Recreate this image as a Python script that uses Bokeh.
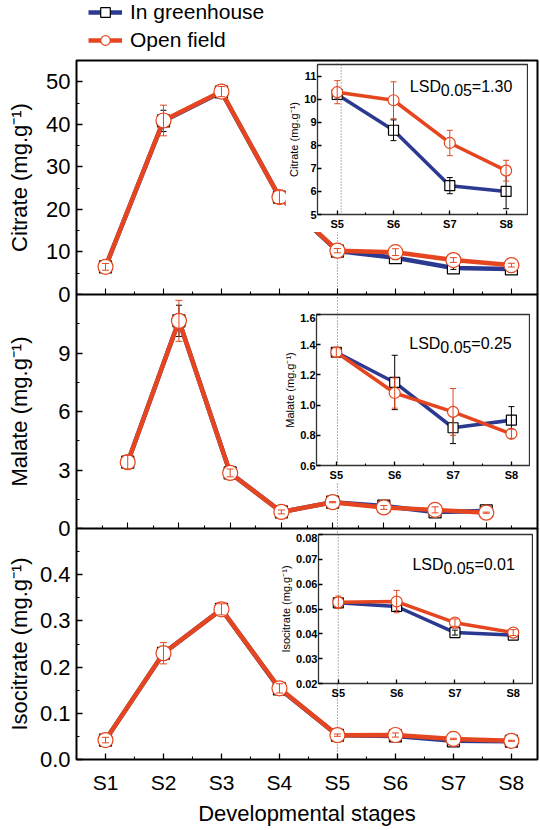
from bokeh.plotting import figure
from bokeh.models import (GridBox, Range1d, FixedTicker, PrintfTickFormatter, Span,
                          Label, Legend, LegendItem, ColumnDataSource, LinearAxis)
from bokeh.embed import file_html
from bokeh.resources import INLINE

# ---------------- data ----------------
stages = ["S1", "S2", "S3", "S4", "S5", "S6", "S7", "S8"]
inset_start = 4  # insets show S5..S8

citrate_gh = [6.5, 40.8, 47.6, 22.9, 10.2, 8.65, 6.25, 6.0]
citrate_gh_err = [0.6, 2.5, 1.0, 1.2, 0.2, 0.45, 0.35, 0.75]
citrate_of = [6.5, 40.9, 47.7, 22.9, 10.3, 9.95, 8.1, 6.9]
citrate_of_err = [0.8, 3.6, 1.2, 1.5, 0.5, 0.8, 0.55, 0.45]

malate_gh = [3.4, 10.65, 2.85, 0.85, 1.35, 1.15, 0.85, 0.90]
malate_gh_err = [0.3, 0.8, 0.2, 0.1, 0.02, 0.18, 0.105, 0.09]
malate_of = [3.4, 10.65, 2.85, 0.85, 1.35, 1.08, 0.955, 0.81]
malate_of_err = [0.35, 1.05, 0.2, 0.1, 0.03, 0.1, 0.155, 0.03]

iso_gh = [0.042, 0.23, 0.325, 0.153, 0.0525, 0.051, 0.0405, 0.0395]
iso_gh_err = [0.004, 0.015, 0.008, 0.008, 0.001, 0.0018, 0.001, 0.0008]
iso_of = [0.042, 0.23, 0.325, 0.154, 0.0527, 0.053, 0.0445, 0.0405]
iso_of_err = [0.006, 0.023, 0.012, 0.01, 0.0025, 0.0045, 0.0015, 0.0012]

lsd_values = ["1.30", "0.25", "0.01"]
series_names = ["In greenhouse", "Open field"]

citrate_ticks = [0, 10, 20, 30, 40, 50]
malate_ticks = [0, 3, 6, 9]
iso_ticks = [0.0, 0.1, 0.2, 0.3, 0.4]
citrate_inset_ticks = [5, 6, 7, 8, 9, 10, 11]
malate_inset_ticks = [0.6, 0.8, 1.0, 1.2, 1.4, 1.6]
iso_inset_ticks = [0.02, 0.03, 0.04, 0.05, 0.06, 0.07, 0.08]

# ---------------- style ----------------
FONT = "Liberation Sans"
BLUE = "#2B3990"
RED = "#E5461F"
x_pos = list(range(1, len(stages) + 1))
x_half = [x - 0.5 for x in x_pos] + [x_pos[-1] + 0.5]

GH_STYLE = dict(color=BLUE, marker="square", mline="black", ecolor="black")
OF_STYLE = dict(color=RED, marker="circle", mline=RED, ecolor=RED)
FRAME_H = 234


def draw_series(p, xs, ys, errs, color, marker, mline, ecolor, msize, lw, cap, bars=True):
    src = ColumnDataSource(dict(
        x=xs, y=ys,
        lo=[y - e for y, e in zip(ys, errs)],
        hi=[y + e for y, e in zip(ys, errs)]))
    ln = p.line("x", "y", source=src, line_color=color, line_width=lw, line_join="round")
    mk = p.scatter("x", "y", source=src, marker=marker, size=msize,
                   fill_color="white", line_color=mline, line_width=1.2)
    if bars:
        p.segment("x", "lo", "x", "hi", source=src, line_color=ecolor, line_width=1)
        p.scatter("x", "hi", source=src, marker="dash", size=cap, line_color=ecolor,
                  line_width=1)
        p.scatter("x", "lo", source=src, marker="dash", size=cap, line_color=ecolor,
                  line_width=1)
    return ln, mk


def style_axis(ax, tin, tmin):
    ax.axis_line_color = None
    ax.major_tick_in = tin
    ax.major_tick_out = 0
    ax.minor_tick_in = tmin
    ax.minor_tick_out = 0
    ax.major_tick_line_width = 1.3
    ax.minor_tick_line_width = 1.1
    ax.major_tick_line_color = "black"
    ax.minor_tick_line_color = "black"
    ax.major_label_text_font = FONT
    ax.major_label_text_color = "black"
    ax.axis_label_text_font = FONT
    ax.axis_label_text_font_style = "normal"
    ax.axis_label_text_color = "black"


def main_panel(height, xr, yr, yticks, yminor, yfmt, ylabel, lstand, top, bottom,
               border_alpha, show_x):
    p = figure(width=540, height=height, x_range=Range1d(*xr), y_range=Range1d(*yr),
               output_backend="svg", toolbar_location=None,
               min_border_left=76, min_border_right=3, min_border_top=top,
               min_border_bottom=bottom, background_fill_color="white",
               border_fill_color="white", border_fill_alpha=border_alpha,
               outline_line_color="black", outline_line_width=2)
    p.grid.visible = False
    xa, ya = p.xaxis[0], p.yaxis[0]
    style_axis(xa, 6, 3)
    style_axis(ya, 6, 3)
    ya.ticker = FixedTicker(ticks=yticks, minor_ticks=yminor)
    ya.formatter = PrintfTickFormatter(format=yfmt)
    ya.major_label_text_font_size = "22px"
    ya.major_label_standoff = 6
    ya.axis_label = ylabel
    ya.axis_label_text_font_size = "22px"
    ya.axis_label_standoff = lstand
    if show_x:
        xa.ticker = FixedTicker(ticks=x_pos, minor_ticks=x_half)
        xa.major_label_overrides = {x: s for x, s in zip(x_pos, stages)}
        xa.major_label_text_font_size = "21px"
        xa.major_label_standoff = 11
        xa.axis_label = "Developmental stages"
        xa.axis_label_text_font_size = "22px"
        xa.axis_label_standoff = 4
    else:
        # label-free tick rows: stage ticks and half-stage ticks
        xa.ticker = FixedTicker(ticks=[], minor_ticks=x_pos)
        xa.minor_tick_in = 6
        xb = LinearAxis(ticker=FixedTicker(ticks=[], minor_ticks=x_half))
        style_axis(xb, 6, 3)
        p.add_layout(xb, "below")
    return p


def inset_panel(width, height, border_left, xr, yr, yticks, yfmt, ylabel, border_alpha):
    p = figure(width=width, height=height, x_range=Range1d(*xr), y_range=Range1d(*yr),
               output_backend="svg", toolbar_location=None,
               min_border_left=border_left, min_border_right=1, min_border_top=1,
               min_border_bottom=16, background_fill_color="white",
               border_fill_color="white", border_fill_alpha=border_alpha,
               outline_line_color="#333333", outline_line_width=1.3)
    p.grid.visible = False
    xa, ya = p.xaxis[0], p.yaxis[0]
    style_axis(xa, 4, 2)
    style_axis(ya, 4, 2)
    xs = x_pos[inset_start:]
    xa.ticker = FixedTicker(ticks=xs, minor_ticks=[x + 0.5 for x in xs[:-1]])
    xa.major_label_overrides = {x: s for x, s in zip(xs, stages[inset_start:])}
    xa.major_label_text_font_size = "11px"
    xa.major_label_text_font_style = "bold"
    xa.major_label_standoff = 3
    ya.ticker = FixedTicker(ticks=yticks)
    ya.formatter = PrintfTickFormatter(format=yfmt)
    ya.major_label_text_font_size = "11px"
    ya.major_label_text_font_style = "bold"
    ya.major_label_standoff = 1
    ya.axis_label = ylabel
    ya.axis_label_text_font_size = "11px"
    ya.axis_label_standoff = 1
    return p


def add_lsd(p, x, y, value, yr, frame_h):
    dy = (yr[1] - yr[0]) * 4.0 / frame_h
    kw = dict(text_font=FONT, text_font_size="16px", text_color="black",
              text_baseline="alphabetic", text_align="left")
    p.add_layout(Label(x=x, y=y, text="LSD", **kw))
    p.add_layout(Label(x=x, y=y - dy, x_offset=31, text="0.05", **kw))
    p.add_layout(Label(x=x, y=y, x_offset=62, text="=" + value, **kw))


def add_span(p, loc):
    p.add_layout(Span(location=loc, dimension="height", line_color="#666666",
                      line_dash="1 2", line_width=1, level="underlay"))


def fill_main(p, gh, gh_err, of, of_err):
    draw_series(p, x_pos, gh, gh_err, msize=12, lw=4.5, cap=6, **GH_STYLE)
    draw_series(p, x_pos, of, of_err, msize=15, lw=4.5, cap=7, **OF_STYLE)


def fill_inset(p, gh, gh_err, of, of_err):
    xs = x_pos[inset_start:]
    k = inset_start
    draw_series(p, xs, gh[k:], gh_err[k:], msize=10, lw=3.5, cap=6, **GH_STYLE)
    draw_series(p, xs, of[k:], of_err[k:], msize=11, lw=3.5, cap=6, **OF_STYLE)


s5 = x_pos[inset_start]
unit = "(mg.g\u207b\u00b9)"

# ---------------- legend strip (series drawn outside its view, legend only) ----------------
lf = figure(width=400, height=58, x_range=Range1d(-20, -19), y_range=Range1d(-20, -19),
            x_axis_type=None, y_axis_type=None, output_backend="svg",
            toolbar_location=None, min_border=0, min_border_left=0, min_border_right=0,
            min_border_top=0, min_border_bottom=0, outline_line_color=None,
            background_fill_color="white", border_fill_color="white")
lf.grid.visible = False
items = []
for name, st, ys in zip(series_names, (GH_STYLE, OF_STYLE), (citrate_gh, citrate_of)):
    ln, mk = draw_series(lf, x_pos, ys, [0] * len(ys), msize=12, lw=4.5, cap=6,
                         bars=False, **st)
    items.append(LegendItem(label=name, renderers=[ln, mk]))
legend = Legend(items=items, location=(12, 6), orientation="vertical",
                label_text_font=FONT, label_text_font_size="21px", label_text_color="black",
                glyph_width=34, glyph_height=24, label_height=24, label_standoff=8,
                spacing=4, padding=0, margin=0, background_fill_alpha=0,
                border_line_color=None)
lf.add_layout(legend, "center")

# ---------------- main panels ----------------
f1 = main_panel(2 + FRAME_H + 12, (0.5, 8.45), (0, 55), citrate_ticks,
                [5, 15, 25, 35, 45, 55], "%d", "Citrate " + unit, 11, 2, 12, 0.0, False)
add_span(f1, s5)
fill_main(f1, citrate_gh, citrate_gh_err, citrate_of, citrate_of_err)

f2 = main_panel(FRAME_H + 12, (0, 9), (0, 12), malate_ticks, [1.5, 4.5, 7.5, 10.5], "%d",
                "Malate " + unit, 23, 0, 12, 0.0, False)
add_span(f2, s5 + 0.095)
fill_main(f2, malate_gh, malate_gh_err, malate_of, malate_of_err)

f3 = main_panel(FRAME_H + 66, (0.5, 8.45), (0, 0.5), iso_ticks,
                [0.05, 0.15, 0.25, 0.35, 0.45], "%.1f", "Isocitrate " + unit, 5, 0, 66,
                0.0, True)
add_span(f3, s5)
fill_main(f3, iso_gh, iso_gh_err, iso_of, iso_of_err)

# ---------------- insets ----------------
yr1 = (5, 11.5)
i1 = inset_panel(243, 169, 28, (4.65, 8.38), yr1, citrate_inset_ticks, "%d",
                 "Citrate " + unit, 1.0)
add_span(i1, s5 + 0.07)
fill_inset(i1, citrate_gh, citrate_gh_err, citrate_of, citrate_of_err)
add_lsd(i1, 6.29, 10.56, lsd_values[0], yr1, 152)

yr2 = (0.6, 1.6)
i2 = inset_panel(250, 170, 36, (4.66, 8.31), yr2, malate_inset_ticks, "%.1f",
                 "Malate " + unit, 1.0)
add_span(i2, s5 + 0.02)
fill_inset(i2, malate_gh, malate_gh_err, malate_of, malate_of_err)
add_lsd(i2, 6.25, 1.41, lsd_values[1], yr2, 153)

yr3 = (0.02, 0.08)
i3 = inset_panel(257, 168, 42, (4.66, 8.33), yr3, iso_inset_ticks, "%.2f",
                 "Isocitrate " + unit, 0.0)
add_span(i3, s5)
fill_inset(i3, iso_gh, iso_gh_err, iso_of, iso_of_err)
add_lsd(i3, 6.27, 0.0681, lsd_values[2], yr3, 151)

# ---------------- overlapping grid layout (page pixels) ----------------
placements = [  # (element, left, top)
    (lf, 0, 0),
    (f1, 0, 58), (i1, 285, 63),
    (f2, 0, 294), (i2, 280, 313),
    (f3, 0, 528), (i3, 276, 533),
]
xb, yb = {0, 540}, set()
for el, l, t in placements:
    xb.update([l, l + el.width])
    yb.update([t, t + el.height])
xb = sorted(xb)
yb = sorted(yb)
children = []
for el, l, t in placements:
    r0, c0 = yb.index(t), xb.index(l)
    r1, c1 = yb.index(t + el.height), xb.index(l + el.width)
    children.append((el, r0, c0, r1 - r0, c1 - c0))
grid = GridBox(children=children,
               rows=[f"{b - a}px" for a, b in zip(yb, yb[1:])],
               cols=[f"{b - a}px" for a, b in zip(xb, xb[1:])],
               spacing=0)

open("out.html", "w").write(file_html(grid, INLINE))
